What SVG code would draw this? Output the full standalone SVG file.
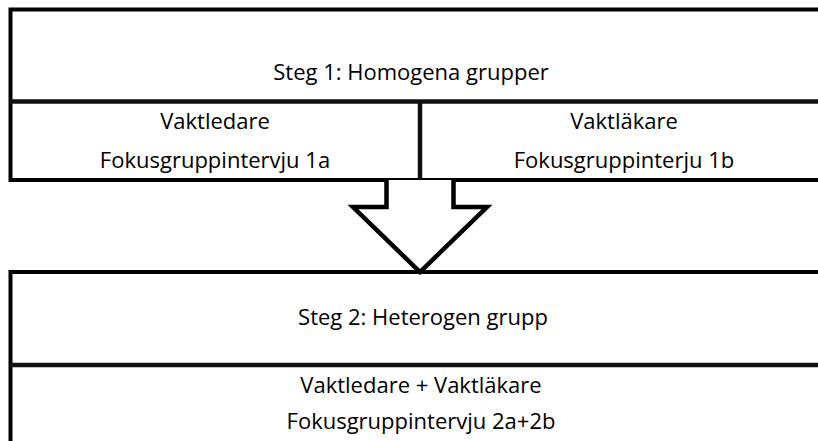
<svg xmlns="http://www.w3.org/2000/svg" width="818" height="441" viewBox="0 0 818 441">
  <style>
    .box { fill: #ffffff; stroke: #000000; stroke-width: 4; }
    .div { fill: none; stroke: #111111; stroke-width: 4.5; }
    .lbl { font-family: "Open Sans", "Noto Sans", "DejaVu Sans", sans-serif; font-size: 22px; fill: #000000; text-anchor: middle; }
    .arrow { fill: #ffffff; stroke: #000000; stroke-width: 4.5; stroke-linejoin: miter; }
  </style>
  <rect x="0" y="0" width="818" height="441" fill="#ffffff"/>

  <g id="steg1">
    <rect class="box" x="10.5" y="9.5" width="830" height="170.5"/>
    <line class="div" x1="10.5" y1="101.5" x2="840" y2="101.5"/>
    <line class="div" x1="420" y1="101.5" x2="420" y2="180"/>
    <text class="lbl" x="411" y="80">Steg 1: Homogena grupper</text>
    <text class="lbl" x="215" y="129">Vaktledare</text>
    <text class="lbl" x="215" y="168">Fokusgruppintervju 1a</text>
    <text class="lbl" x="624" y="129">Vaktläkare</text>
    <text class="lbl" x="624" y="168">Fokusgruppinterju 1b</text>
  </g>

  <g id="steg2">
    <rect class="box" x="10.5" y="272" width="830" height="200"/>
    <line class="div" x1="10.5" y1="365" x2="840" y2="365"/>
    <text class="lbl" x="423" y="325">Steg 2: Heterogen grupp</text>
    <text class="lbl" x="421" y="393">Vaktledare + Vaktläkare</text>
    <text class="lbl" x="421" y="429">Fokusgruppintervju 2a+2b</text>
  </g>

  <g id="connectors">
    <path class="arrow" d="M386.5,180 L386.5,207 L353,207 L420,272 L487,207 L453.5,207 L453.5,180"/>
  </g>
</svg>
